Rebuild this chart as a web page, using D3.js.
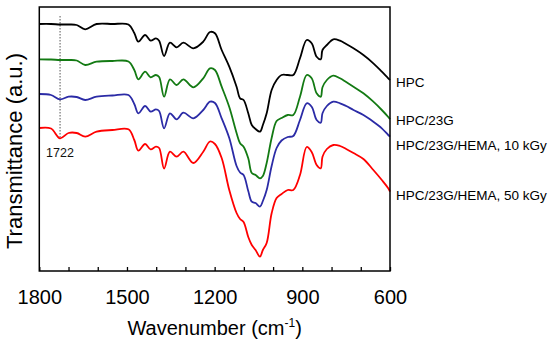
<!DOCTYPE html>
<html>
<head>
<meta charset="utf-8">
<script src="https://cdn.jsdelivr.net/npm/d3@7"></script>
<style>
  html, body { margin: 0; padding: 0; background: #fff; }
  svg { display: block; font-family: "Liberation Sans", Arial, sans-serif; }
</style>
</head>
<body>
<svg id="chart" width="550" height="348"></svg>
<script>
// ---- data (transmittance in arbitrary units, vertically offset spectra) ----
const wavenumbers = [1800, 1760, 1729, 1700, 1672, 1643, 1604, 1550, 1495, 1475, 1461, 1438, 1419, 1401, 1390, 1373, 1353, 1330, 1307, 1273, 1239, 1216, 1199, 1176, 1150, 1125, 1113, 1101, 1085, 1073, 1060, 1045, 1035, 1022, 1005, 988, 971, 950, 931, 908, 885, 868, 851, 837, 831, 816, 794, 771, 750, 725, 691, 657, 628, 606, 600];

const seriesNames = ["HPC", "HPC/23G", "HPC/23G/HEMA, 10 kGy", "HPC/23G/HEMA, 50 kGy"];

const hpc = [247, 247, 246.5, 246.5, 246, 241.7, 247, 247, 246.5, 238, 229.3, 236, 230.3, 232.7, 230.3, 215, 228.3, 223.7, 228.3, 222.7, 229.3, 239, 237.7, 221, 204.3, 184.3, 172.7, 171, 157.7, 146, 142, 139.3, 146, 157.7, 181, 191, 196, 196, 196, 212.7, 231, 227.7, 214.3, 211.7, 221, 226, 231.7, 230.3, 227, 222.7, 216, 207.7, 199.3, 192.7, 191];

const hpc23g = [211.7, 211.5, 211, 211, 210.5, 206, 209.3, 210, 209.5, 201, 191.7, 199.3, 193.7, 196, 194, 174.3, 191.7, 186, 191.7, 183.7, 192.7, 202.7, 201, 184.3, 164, 138, 127.7, 124.3, 112.7, 98, 96, 92.7, 95, 108, 133, 150, 153, 156, 156, 174.3, 196, 192.7, 177.7, 174.3, 183.7, 191, 195.3, 192.7, 189, 184.3, 177.7, 169.3, 161, 154, 151.7];

const hema10 = [177, 176, 171.7, 174.3, 174, 171, 174.3, 175.5, 176, 167, 157.7, 165, 159.3, 161.7, 160, 142.7, 157.7, 151.7, 158.3, 152.7, 161, 169.3, 168, 152.7, 133, 105, 98.5, 96, 80, 69.3, 68, 64.3, 70, 81, 105, 123, 130.5, 134, 135, 151, 167.7, 164.3, 151, 148.3, 157.7, 165, 169.3, 167.7, 165, 161, 156, 149.3, 142.7, 136, 134.3];

const hema50 = [143, 142.5, 132.7, 138, 138, 134.3, 139.3, 141, 141.7, 131, 120.3, 127, 121.7, 124.3, 123, 102.5, 119.3, 114.3, 119.3, 108, 119.3, 129.5, 127, 113, 81, 58, 52, 49, 34, 26, 21, 14.3, 21, 28, 57.7, 73, 77, 81, 81, 96, 124, 119, 106, 102.7, 114.3, 122, 126, 125, 122, 118, 112, 101, 91, 82.7, 79.3];

const xTicks = [1800, 1700, 1600, 1500, 1400, 1300, 1200, 1100, 1000, 900, 800, 700, 600];
const xTickLabels = [1800, 1500, 1200, 900, 600];
const markerWavenumber = 1729;   // dotted guide line position
const markerLabel = "1722";

// ---- styling / layout ----
const colors = ["#000000", "#137a13", "#2b2ba6", "#ff0000"];
const labelOffsets = [3, 2, 10, 5];   // px nudges for right-hand labels

const margin = { left: 39.3, right: 160, top: 7, bottom: 77 };
const W = 550, H = 348;
const plotR = W - margin.right;    // 390
const plotB = H - margin.bottom;   // 271

const x = d3.scaleLinear().domain([1800, 600]).range([margin.left, plotR]);
const y = d3.scaleLinear().domain([0, 264]).range([plotB, margin.top]);

const svg = d3.select("#chart");

const allSeries = [hpc, hpc23g, hema10, hema50];

const line = d3.line()
  .x((d, i) => x(wavenumbers[i]))
  .y(d => y(d))
  .curve(d3.curveCatmullRom.alpha(0.5));

// dotted marker line
const markerIdx = wavenumbers.indexOf(markerWavenumber);
svg.append("line")
  .attr("x1", x(markerWavenumber)).attr("x2", x(markerWavenumber))
  .attr("y1", y(255)).attr("y2", y(hema50[markerIdx]))
  .attr("stroke", "#555").attr("stroke-width", 1)
  .attr("stroke-dasharray", "1.5,1.5");

svg.append("text")
  .attr("x", x(markerWavenumber) - 14)
  .attr("y", 157)
  .attr("font-size", 12.5)
  .attr("fill", "#111")
  .text(markerLabel);

// spectra
svg.append("g").selectAll("path")
  .data(allSeries)
  .join("path")
  .attr("d", d => line(d))
  .attr("fill", "none")
  .attr("stroke", (d, i) => colors[i])
  .attr("stroke-width", 1.8)
  .attr("stroke-linejoin", "round");

// frame
svg.append("rect")
  .attr("x", margin.left).attr("y", margin.top)
  .attr("width", plotR - margin.left).attr("height", plotB - margin.top)
  .attr("fill", "none").attr("stroke", "#000").attr("stroke-width", 1.5);

// x axis
const xAxis = d3.axisBottom(x)
  .tickValues(xTicks)
  .tickSizeInner(-4)
  .tickSizeOuter(0)
  .tickPadding(18.5)
  .tickFormat(d => xTickLabels.includes(d) ? d : "");

const gx = svg.append("g")
  .attr("transform", `translate(0,${plotB})`)
  .call(xAxis);
gx.select(".domain").remove();
gx.selectAll(".tick line").attr("stroke", "#000").attr("stroke-width", 1.3);
gx.selectAll(".tick text")
  .attr("font-size", 20)
  .attr("font-family", "Liberation Sans, Arial, sans-serif")
  .attr("fill", "#000");

// x axis title
const xt = svg.append("text")
  .attr("x", (margin.left + plotR) / 2)
  .attr("y", 335)
  .attr("text-anchor", "middle")
  .attr("font-size", 20)
  .attr("fill", "#000");
xt.append("tspan").text("Wavenumber (cm");
xt.append("tspan").attr("dy", -8).attr("font-size", 12).text("-1");
xt.append("tspan").attr("dy", 8).text(")");

// y axis title
svg.append("text")
  .attr("transform", `translate(22,${151}) rotate(-90)`)
  .attr("text-anchor", "middle")
  .attr("font-size", 22)
  .attr("fill", "#000")
  .text("Transmittance (a.u.)");

// series labels on the right
svg.append("g").selectAll("text")
  .data(seriesNames)
  .join("text")
  .attr("x", plotR + 6)
  .attr("y", (d, i) => y(allSeries[i][allSeries[i].length - 1]) + labelOffsets[i])
  .attr("dominant-baseline", "middle")
  .attr("font-size", 13.5)
  .attr("fill", "#000")
  .text(d => d);
</script>
</body>
</html>
